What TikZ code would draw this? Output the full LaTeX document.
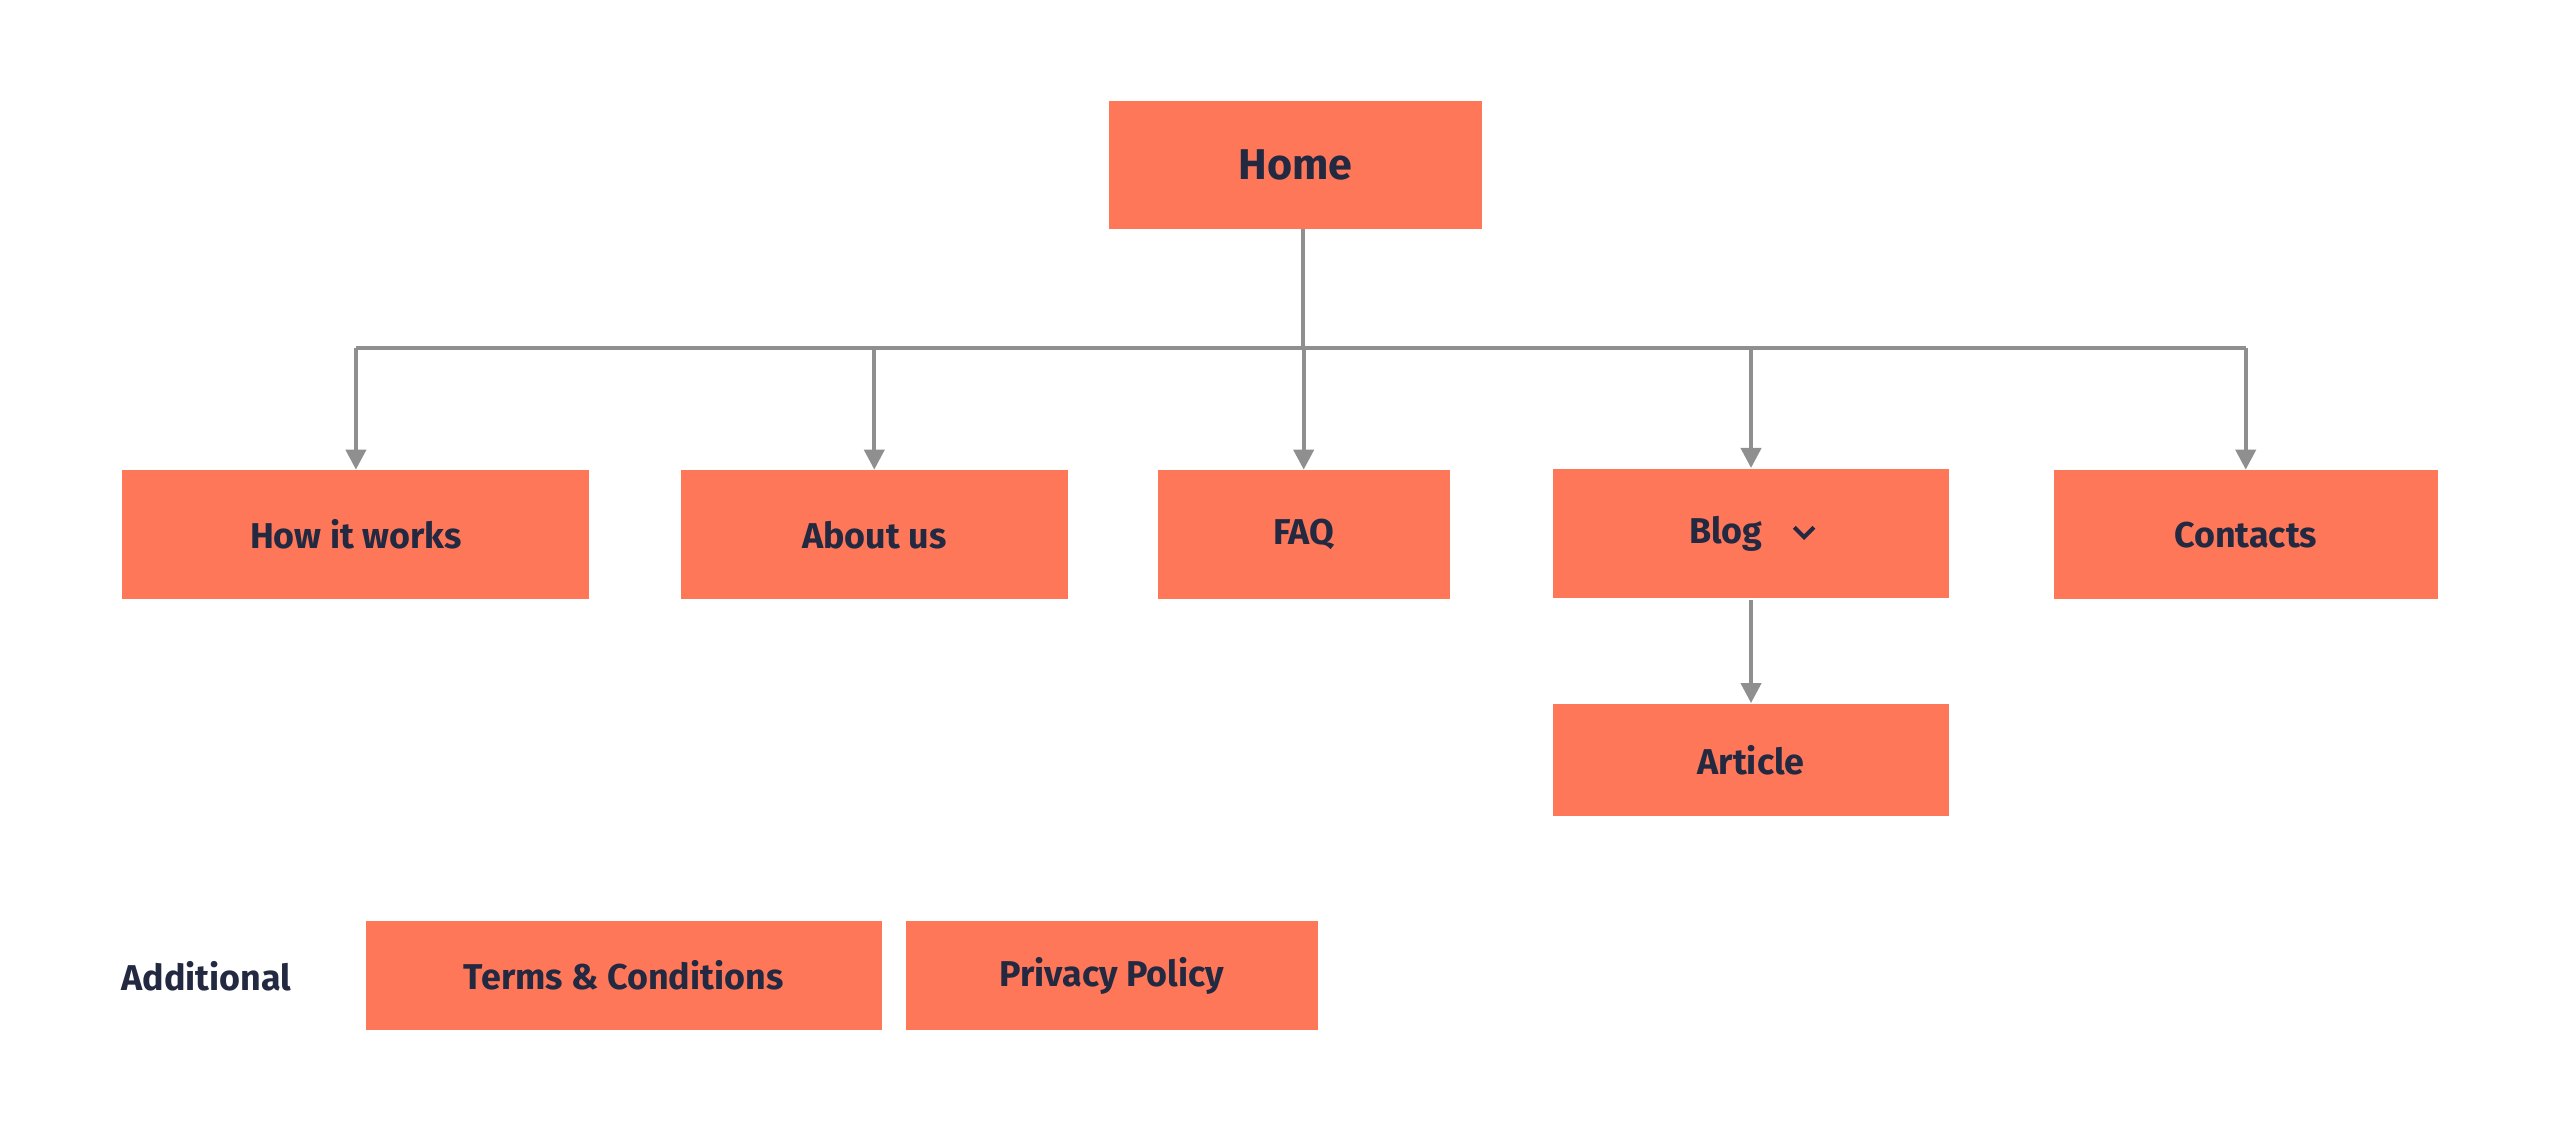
\documentclass[tikz,border=0pt]{standalone}
\usepackage{fontspec}
\setmainfont{Fira Sans}
\usetikzlibrary{arrows.meta}
\definecolor{box}{HTML}{FF7759}
\definecolor{txt}{HTML}{232940}
\definecolor{ln}{HTML}{8F8F8F}
\begin{document}
\begin{tikzpicture}[x=0.02cm,y=-0.02cm,
  bx/.style={fill=box,draw=none,text=txt,font=\fontsize{12.5}{14}\selectfont\bfseries,inner sep=0},
  ln/.style={draw=ln,line width=1.4pt},
  ar/.style={ln,-{Triangle[length=7pt,width=7pt]}}]
\useasboundingbox (0,0) rectangle (1568,693);
\node[bx,minimum width=229*0.02cm,minimum height=78*0.02cm,font=\fontsize{15}{18}\selectfont\bfseries] (home) at (793.5,101) {Home};
\node[bx,minimum width=286*0.02cm,minimum height=79*0.02cm] (how) at (218,327.5) {How it works};
\node[bx,minimum width=237*0.02cm,minimum height=79*0.02cm] (about) at (535.5,327.5) {About us};
\node[bx,minimum width=179*0.02cm,minimum height=79*0.02cm] (faq) at (798.5,327.5) {FAQ};
\node[bx,minimum width=243*0.02cm,minimum height=79*0.02cm] (blog) at (1072.5,326.5) {};
\node[text=txt,font=\fontsize{12.5}{14}\selectfont\bfseries,inner sep=0] (blogt) at (1057,327) {Blog};
\coordinate (cv) at (1105,327);
\draw[txt,line width=1.4pt] ([shift={(-6,-4)}]cv) -- ([shift={(0,2)}]cv) -- ([shift={(6,-4)}]cv);
\node[bx,minimum width=235*0.02cm,minimum height=79*0.02cm] (contacts) at (1375.5,327.5) {Contacts};
\node[bx,minimum width=243*0.02cm,minimum height=69*0.02cm] (article) at (1072.5,465.5) {Article};
\node[text=txt,font=\fontsize{12.5}{14}\selectfont\bfseries,anchor=west,inner sep=0] (add) at (74,598) {Additional};
\node[bx,minimum width=316*0.02cm,minimum height=67*0.02cm] (terms) at (382,597.5) {Terms \& Conditions};
\node[bx,minimum width=252*0.02cm,minimum height=67*0.02cm] (priv) at (681,597.5) {Privacy Policy};
\coordinate (bus) at (798,213);
\draw[ln] (home.south -| bus) -- (bus);
\draw[ln] (bus -| how) -- (bus -| contacts);
\draw[ar] (bus -| how) -- (how.north);
\draw[ar] (bus -| about) -- (about.north);
\draw[ar] (bus -| faq) -- (faq.north);
\draw[ar] (bus -| blog) -- (blog.north);
\draw[ar] (bus -| contacts) -- (contacts.north);
\draw[ar] ([yshift=-0.02cm]blog.south) -- (article.north);
\end{tikzpicture}
\end{document}
